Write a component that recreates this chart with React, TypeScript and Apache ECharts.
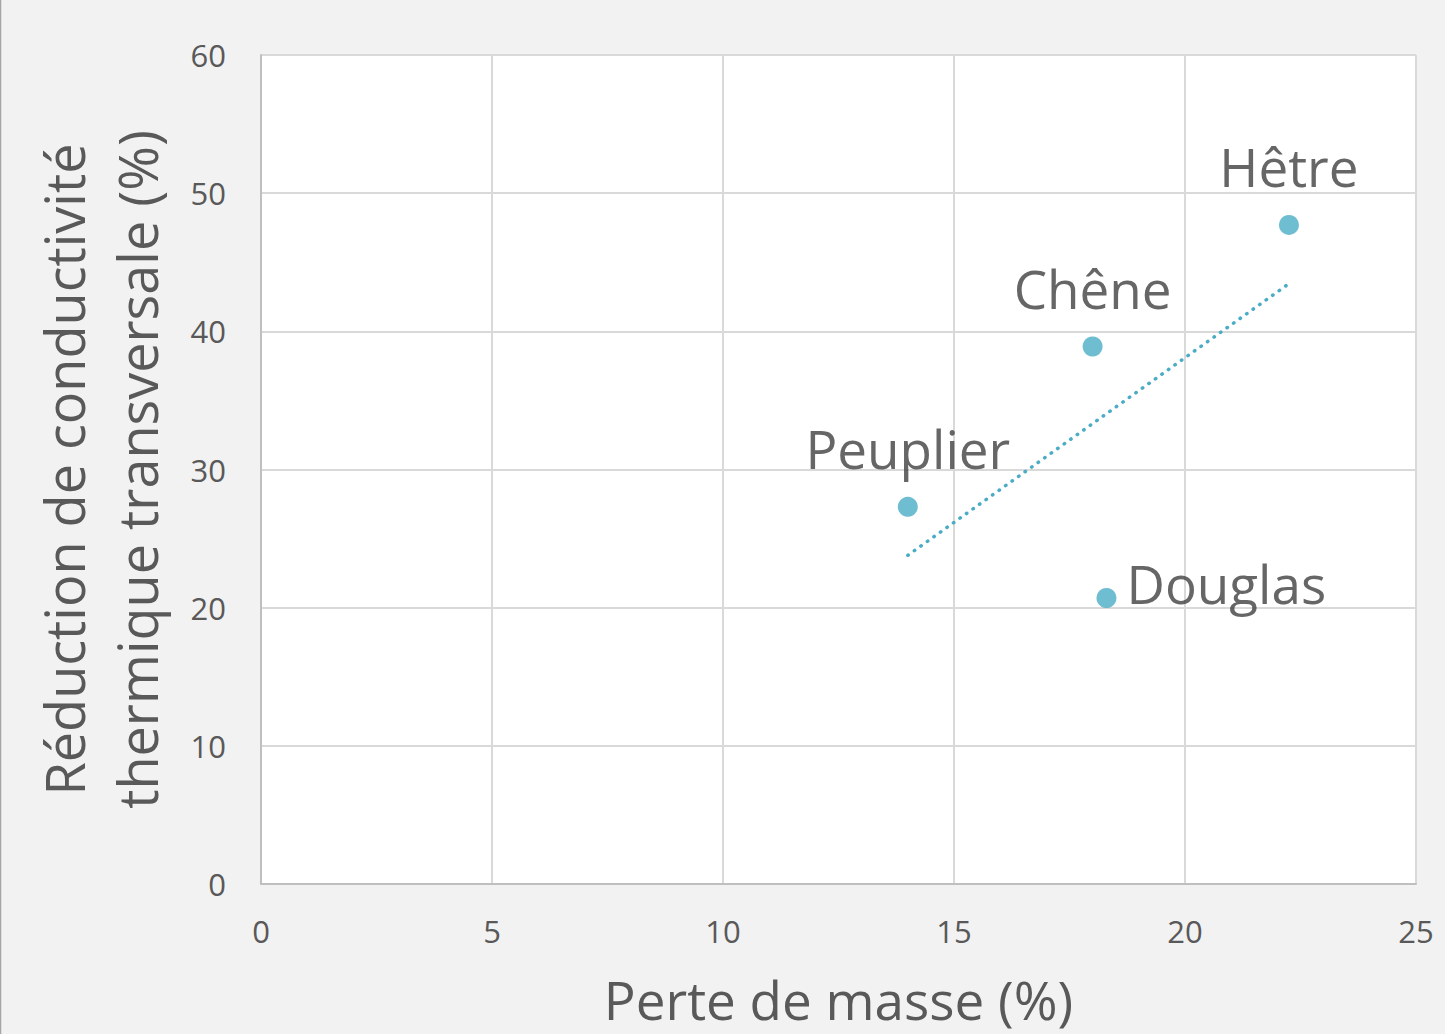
import React, { useEffect, useRef } from "react";
import * as echarts from "echarts";

const species = ["Peuplier", "Chêne", "Hêtre", "Douglas"];
const massLoss = [14.0, 18.0, 22.25, 18.3];
const conductivityReduction = [27.3, 38.9, 47.7, 20.7];
const labelPositions = ["top", "top", "top", "right"];

const xTitle = "Perte de masse (%)";
const yTitle = "Réduction de conductivité\nthermique transversale (%)";

function regression(xs: number[], ys: number[]) {
  const n = xs.length;
  const mx = xs.reduce((a, b) => a + b, 0) / n;
  const my = ys.reduce((a, b) => a + b, 0) / n;
  let sxy = 0;
  let sxx = 0;
  for (let i = 0; i < n; i++) {
    sxy += (xs[i] - mx) * (ys[i] - my);
    sxx += (xs[i] - mx) * (xs[i] - mx);
  }
  const slope = sxy / sxx;
  return { slope, intercept: my - slope * mx };
}

export default function App() {
  const ref = useRef<HTMLDivElement>(null);
  useEffect(() => {
    if (!ref.current) return;
    const chart = echarts.init(ref.current, undefined, { renderer: "svg" });
    const { slope, intercept } = regression(massLoss, conductivityReduction);
    const x0 = Math.min(...massLoss);
    const x1 = Math.max(...massLoss);
    const font = "'Open Sans', 'Noto Sans', sans-serif";
    const color = "#4bacc6";
    chart.setOption({
      animation: false,
      backgroundColor: "#f2f2f2",
      textStyle: { fontFamily: font },
      grid: {
        left: 261,
        right: 29,
        top: 55,
        bottom: 150,
        containLabel: false,
        outerBoundsMode: "none",
        show: true,
        backgroundColor: "#ffffff",
        borderWidth: 0,
      },
      graphic: [
        {
          type: "line",
          shape: { x1: 0.5, y1: 0, x2: 0.5, y2: 1034 },
          style: { stroke: "#a6a6a6", lineWidth: 1.5 },
        },
      ],
      xAxis: {
        type: "value",
        min: 0,
        max: 25,
        interval: 5,
        name: xTitle,
        nameLocation: "middle",
        nameGap: 89,
        nameTextStyle: { fontSize: 53, color: "#595959", fontFamily: font },
        axisLine: { show: true, lineStyle: { color: "#bfbfbf", width: 2 } },
        axisTick: { show: false },
        axisLabel: { fontSize: 31, color: "#595959", margin: 31, fontFamily: font },
        splitLine: { show: true, lineStyle: { color: "#d9d9d9", width: 2 } },
      },
      yAxis: {
        type: "value",
        min: 0,
        max: 60,
        interval: 10,
        name: yTitle,
        nameLocation: "middle",
        nameGap: 88,
        nameTextStyle: { fontSize: 54, color: "#595959", fontFamily: font, lineHeight: 73 },
        axisLine: { show: true, lineStyle: { color: "#bfbfbf", width: 2 } },
        axisTick: { show: false },
        axisLabel: { fontSize: 31, color: "#595959", margin: 35, fontFamily: font },
        splitLine: { show: true, lineStyle: { color: "#d9d9d9", width: 2 } },
      },
      series: [
        {
          type: "line",
          data: [
            [x0, intercept + slope * x0],
            [x1, intercept + slope * x1],
          ],
          symbol: "none",
          lineStyle: { color, width: 3.5, type: [0.5, 7.5], cap: "round" },
          z: 2,
          silent: true,
        },
        {
          type: "scatter",
          symbolSize: 20,
          itemStyle: { color },
          z: 3,
          data: species.map((name, i) => ({
            name,
            value: [massLoss[i], conductivityReduction[i]],
            label: {
              show: true,
              formatter: name,
              position: labelPositions[i],
              distance: labelPositions[i] === "top" ? 22 : 10,
              offset: labelPositions[i] === "right" ? [0, -14] : [0, 0],
              fontSize: 53,
              color: "#404040",
              fontFamily: font,
            },
          })),
        },
      ],
    });
    return () => chart.dispose();
  }, []);
  return (
    <div
      ref={ref}
      style={{ position: "absolute", left: 0, top: 0, width: 1445, height: 1034 }}
    />
  );
}
